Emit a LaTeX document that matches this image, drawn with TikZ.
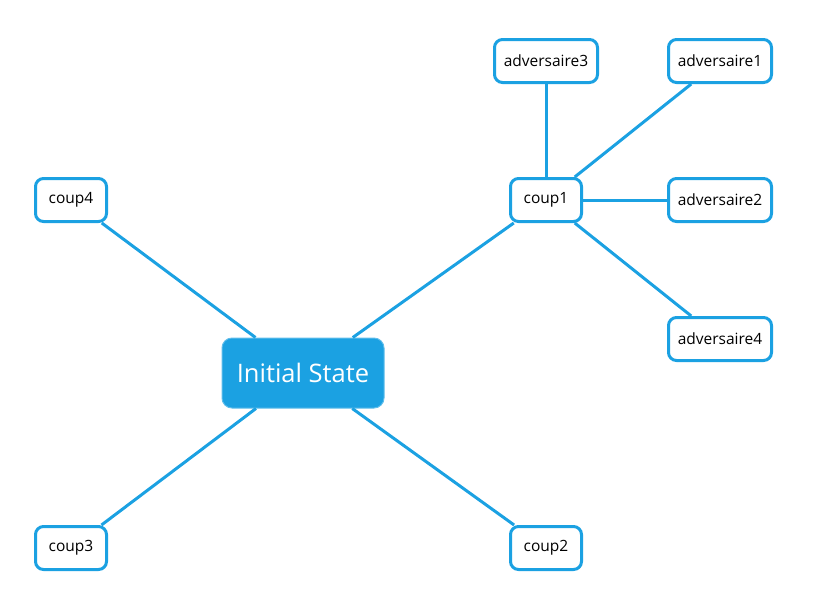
\documentclass[tikz,border=0pt]{standalone}
\usepackage{fontspec}
\setmainfont{Open Sans}
\definecolor{metroblue}{HTML}{1BA1E2}
\begin{document}
\begin{tikzpicture}[x=1pt,y=-1pt,
        main/.style = {draw=metroblue, line width=3pt, rounded corners=8pt, fill=white, minimum height=43pt, inner sep=0pt, font=\fontsize{15.5}{18}\selectfont},
        coup/.style = {main, minimum width=71pt},
        adv/.style = {main, minimum width=103pt},
        root/.style = {draw=metroblue!70, line width=1pt, rounded corners=10pt, fill=metroblue, text=white, minimum width=162pt, minimum height=70pt, font=\fontsize{25.5}{30}\selectfont},
        edge/.style = {draw=metroblue, line width=3pt}]
        \useasboundingbox (0,0) rectangle (816,606);
        \node[root] (0) at (303,373) {Initial State};
        \node[coup] (1) at (546,200) {coup1};
        \node[coup] (2) at (546,548) {coup2};
        \node[coup] (3) at (71,548) {coup3};
        \node[coup] (4) at (71,200) {coup4};
        \node[adv] (a1) at (720,61) {adversaire1};
        \node[adv] (a2) at (720,200) {adversaire2};
        \node[adv] (a3) at (546,61) {adversaire3};
        \node[adv] (a4) at (720,339) {adversaire4};
        \draw[edge] (0) -- (1);
        \draw[edge] (0) -- (2);
        \draw[edge] (0) -- (3);
        \draw[edge] (0) -- (4);
        \draw[edge] (1) -- (a1);
        \draw[edge] (1) -- (a2);
        \draw[edge] (1) -- (a3);
        \draw[edge] (1) -- (a4);
        \end{tikzpicture}
\end{document}
